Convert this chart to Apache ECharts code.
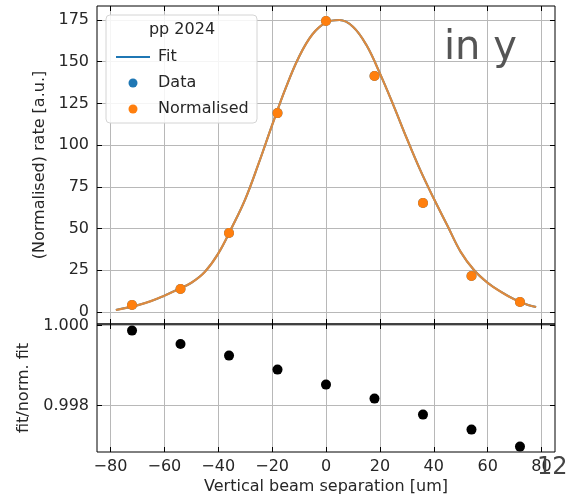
<!DOCTYPE html>
<html>
<head>
<meta charset="utf-8">
<script src="https://cdn.jsdelivr.net/npm/echarts@6/dist/echarts.min.js"></script>
<style>
  html, body { margin: 0; padding: 0; background: #fff; }
  #chart { width: 568px; height: 497px; }
</style>
</head>
<body>
<div id="chart"></div>
<script>
// values
const separation = [-72, -54, -36, -18, 0, 18, 36, 54, 72]
const rateData = [4.2, 13.8, 47.3, 119.2, 174.4, 141.4, 65.3, 21.6, 6.0]
const rateNormalised = [4.2, 13.8, 47.3, 119.2, 174.4, 141.4, 65.3, 21.6, 6.0]
const fitX = [-78, -75, -70, -65, -60, -55, -50, -45, -40, -35, -30, -25, -20, -15, -10, -5, 0, 5, 10, 15, 20, 25, 30, 35, 40, 45, 50, 55, 60, 65, 70, 75, 78]
const fitY = [1.2, 2.2, 4, 6.5, 9.8, 13.5, 17.5, 24, 35, 50.5, 67.5, 89, 112, 134, 153, 166.5, 173.5, 175, 171, 160, 143, 124, 104, 85, 68, 52, 36, 25, 17.5, 12, 7.5, 4.2, 3.0]
const ratio = [0.999875, 0.99954, 0.99925, 0.9989, 0.998525, 0.998175, 0.997775, 0.9974, 0.996975]
const xTicks = [-80, -60, -40, -20, 0, 20, 40, 60, 80]
const rateTicks = [0, 25, 50, 75, 100, 125, 150, 175]
const ratioTicks = [0.998, 1.000]

const FONT = 'DejaVu Sans'
const TXT = '#262626'
const GRID_COLOR = '#b8b8b8'

const chart = echarts.init(document.getElementById('chart'))

const minus = v => (v < 0 ? '\u2212' + Math.abs(v) : String(v))

const tickIn = values => ({ show: true, inside: true, length: 5, customValues: values, lineStyle: { color: '#000', width: 1 } })
const split = { show: true, lineStyle: { color: GRID_COLOR, width: 1 } }
const noLine = { show: false, onZero: false }

const xBase = { type: 'value', min: -85, max: 85, axisLine: noLine }
const rateBase = { type: 'value', gridIndex: 0, min: -7.2, max: 183.4, axisLine: noLine }
const ratioBase = { type: 'value', gridIndex: 1, min: 0.99684, max: 1.00004, axisLine: noLine }

const options = {
  animation: false,
  textStyle: { fontFamily: FONT },
  grid: [
    { left: 97, right: 13, top: 6, height: 318, show: true, borderColor: '#000', borderWidth: 1, backgroundColor: 'transparent' },
    { left: 97, right: 13, top: 324, height: 128, show: true, borderColor: '#000', borderWidth: 1, backgroundColor: 'transparent' }
  ],
  xAxis: [
    { ...xBase, gridIndex: 0, position: 'bottom', axisTick: tickIn(xTicks), axisLabel: { show: false, customValues: xTicks }, splitLine: split },
    { ...xBase, gridIndex: 0, position: 'top', axisTick: tickIn(xTicks), axisLabel: { show: false, customValues: xTicks }, splitLine: { show: false } },
    {
      ...xBase, gridIndex: 1, position: 'bottom',
      axisTick: tickIn(xTicks),
      axisLabel: { customValues: xTicks, formatter: minus, color: TXT, fontSize: 16, fontFamily: FONT, margin: 7 },
      splitLine: split,
      name: 'Vertical beam separation [um]', nameLocation: 'middle', nameGap: 27,
      nameTextStyle: { color: TXT, fontSize: 16, fontFamily: FONT, verticalAlign: 'top' }
    },
    { ...xBase, gridIndex: 1, position: 'top', axisTick: tickIn(xTicks), axisLabel: { show: false, customValues: xTicks }, splitLine: { show: false } }
  ],
  yAxis: [
    {
      ...rateBase, position: 'left',
      axisTick: tickIn(rateTicks),
      axisLabel: { customValues: rateTicks, color: TXT, fontSize: 16, fontFamily: FONT, margin: 8, padding: [4, 0, 0, 0] },
      splitLine: split,
      name: '(Normalised) rate [a.u.]', nameLocation: 'middle', nameGap: 45,
      nameTextStyle: { color: TXT, fontSize: 16, fontFamily: FONT }
    },
    { ...rateBase, position: 'right', axisTick: tickIn(rateTicks), axisLabel: { show: false, customValues: rateTicks }, splitLine: { show: false } },
    {
      ...ratioBase, position: 'left',
      axisTick: tickIn(ratioTicks),
      axisLabel: { customValues: ratioTicks, formatter: v => v.toFixed(3), color: TXT, fontSize: 16, fontFamily: FONT, margin: 8, padding: [4, 0, 0, 0] },
      splitLine: split,
      name: 'fit/norm. fit', nameLocation: 'middle', nameGap: 61,
      nameTextStyle: { color: TXT, fontSize: 16, fontFamily: FONT }
    },
    { ...ratioBase, position: 'right', axisTick: tickIn(ratioTicks), axisLabel: { show: false, customValues: ratioTicks }, splitLine: { show: false } }
  ],
  legend: {
    orient: 'vertical',
    left: 111,
    top: 43,
    itemWidth: 34,
    itemHeight: 9,
    itemGap: 8,
    data: [
      { name: 'Fit', icon: 'path://M0,0H34V2H0Z' },
      { name: 'Data', icon: 'circle' },
      { name: 'Normalised', icon: 'circle' }
    ],
    textStyle: { color: TXT, fontSize: 16, fontFamily: FONT, lineHeight: 18, padding: [0, 0, 0, 3] },
    z: 6
  },
  graphic: [
    { type: 'rect', z: 5, shape: { x: 106, y: 15, width: 151, height: 108, r: 4 }, style: { fill: 'rgba(255,255,255,0.85)', stroke: '#d4d4d4', lineWidth: 1 } },
    { type: 'text', z: 6, style: { text: 'pp 2024', x: 182, y: 30, align: 'center', verticalAlign: 'middle', font: '16px "DejaVu Sans"', fill: TXT } },
    { type: 'text', z: 6, style: { text: 'in y', x: 444, y: 49, align: 'left', verticalAlign: 'middle', font: '40px "DejaVu Sans"', fill: '#555555' } },
    { type: 'text', z: 6, style: { text: '12', x: 537, y: 468, align: 'left', verticalAlign: 'middle', font: '24px "DejaVu Sans"', fill: '#444444' } }
  ],
  series: [
    {
      name: 'Fit', type: 'line', xAxisIndex: 0, yAxisIndex: 0, symbol: 'none', smooth: 0.4,
      lineStyle: { color: '#1f77b4', width: 2 }, itemStyle: { color: '#1f77b4' },
      data: fitX.map((x, i) => [x, fitY[i]]), z: 2
    },
    {
      name: 'Normalised fit', type: 'line', xAxisIndex: 0, yAxisIndex: 0, symbol: 'none', smooth: 0.4,
      lineStyle: { color: '#dc8a3f', width: 2.2 }, itemStyle: { color: '#dc8a3f' },
      data: fitX.map((x, i) => [x, fitY[i]]), z: 3
    },
    {
      name: 'Data', type: 'scatter', xAxisIndex: 0, yAxisIndex: 0, symbolSize: 10,
      itemStyle: { color: '#1f77b4', opacity: 1 },
      data: separation.map((x, i) => [x, rateData[i]]), z: 3
    },
    {
      name: 'Normalised', type: 'scatter', xAxisIndex: 0, yAxisIndex: 0, symbolSize: 10,
      itemStyle: { color: '#ff7f0e', opacity: 1 },
      data: separation.map((x, i) => [x, rateNormalised[i]]), z: 4
    },
    {
      name: 'Ratio', type: 'scatter', xAxisIndex: 2, yAxisIndex: 2, symbolSize: 10,
      itemStyle: { color: '#000', opacity: 1 },
      data: separation.map((x, i) => [x, ratio[i]])
    }
  ]
}

chart.setOption(options)
window.addEventListener('resize', () => chart.resize())
</script>
</body>
</html>
